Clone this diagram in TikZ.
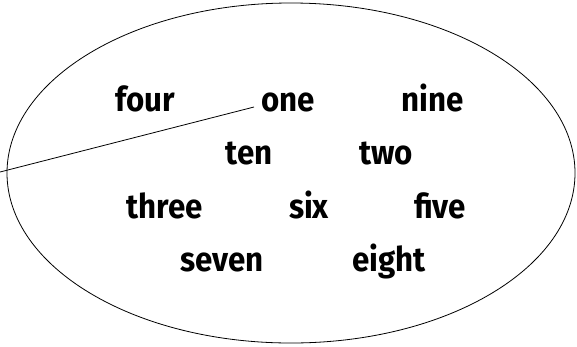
\documentclass[tikz,border=0pt]{standalone}
\usepackage{fontspec}
\setmainfont{Fira Sans}
\newfontfamily\wordfont[FakeStretch=0.92]{Fira Sans}
\usetikzlibrary{positioning}

\begin{document}
\begin{tikzpicture}[x=1pt,y=-1pt,
  word/.style={anchor=base,inner sep=2pt,font=\wordfont\fontsize{34}{40}\selectfont\bfseries}]
  \useasboundingbox (0,0) rectangle (577,346);
  \draw[line width=0.8pt] (291,173) ellipse [x radius=284,y radius=170];
  \node[word] (four)  at (145.5,111) {four};
  \node[word] (one)   at (288,111)   {one};
  \node[word] (nine)  at (433,111)   {nine};
  \node[word] (ten)   at (249,164)   {ten};
  \node[word] (two)   at (386,164)   {two};
  \node[word] (three) at (165,218)   {three};
  \node[word] (six)   at (309,218)   {six};
  \node[word] (five)  at (440,218)   {five};
  \node[word] (seven) at (222,271)   {seven};
  \node[word] (eight) at (389,271)   {eight};
  \coordinate (tail) at (0,172);
  \draw[line width=0.8pt] (tail) -- ([shift={(-5pt,4pt)}]one.base west);
\end{tikzpicture}
\end{document}
